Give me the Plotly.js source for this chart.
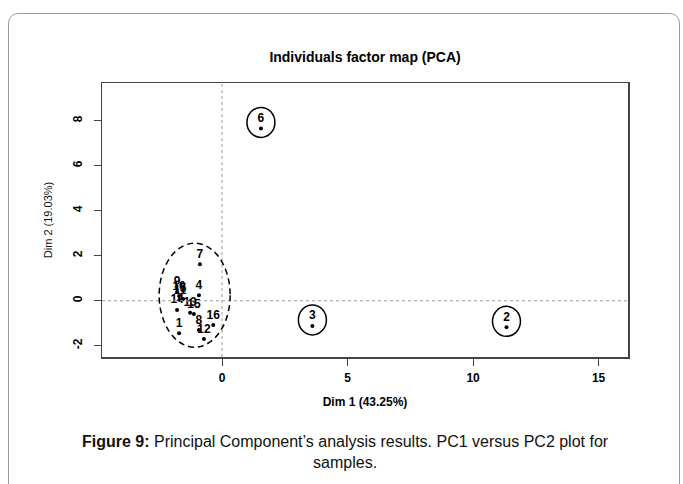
<!DOCTYPE html>
<html>
<head>
<meta charset="utf-8">
<script src="https://cdn.plot.ly/plotly-3.0.1.min.js"></script>
<style>
  html, body { margin: 0; padding: 0; background: #fff; }
  #wrap { position: relative; width: 683px; height: 484px; overflow: hidden; }
  #frame { position: absolute; left: 8px; top: 13px; width: 672px; height: 520px;
           border: 1px solid #9a9a9a; border-radius: 10px; box-sizing: border-box; pointer-events: none; }
  #chart { position: absolute; left: 0; top: 0; width: 683px; height: 484px; }
</style>
</head>
<body>
<div id="wrap">
  <div id="frame"></div>
  <div id="chart"></div>
</div>
<script>
// Sample labels and PCA coordinates
var labels = ['1','2','3','4','5','6','7','8','9','10','11','12','13','14','15','16'];
var dim1 = [-1.71, 11.33, 3.60, -0.92, -1.55, 1.55, -0.88, -0.92, -1.79, -1.71, -1.67, -0.72, -1.27, -1.79, -1.12, -0.35];
var dim2 = [-1.44, -1.18, -1.12, 0.25, 0.08, 7.66, 1.62, -1.30, 0.39, 0.21, 0.03, -1.70, -0.53, -0.41, -0.59, -1.08];
// samples highlighted individually with solid circles
var circled = ['6','3','2'];
var xTicks = [0, 5, 10, 15];
var yTicks = [-2, 0, 2, 4, 6, 8];

var trace = {
  type: 'scatter',
  mode: 'markers+text',
  x: dim1, y: dim2, text: labels,
  textposition: 'top center',
  textfont: { family: 'Liberation Sans, Arial, sans-serif', size: 12, color: '#000', weight: 'bold' },
  marker: { color: '#000', size: 4 },
  hoverinfo: 'text', cliponaxis: false
};

var shapes = [];
// reference lines at 0
shapes.push({ type: 'line', xref: 'x', yref: 'paper', x0: 0, x1: 0, y0: 0, y1: 1,
  line: { color: '#9a9a9a', width: 1, dash: '3px,3px' } });
shapes.push({ type: 'line', xref: 'paper', yref: 'y', x0: 0, x1: 1, y0: 0, y1: 0,
  line: { color: '#9a9a9a', width: 1, dash: '3px,3px' } });

// solid circles around isolated samples
labels.forEach(function (l, i) {
  if (circled.indexOf(l) >= 0) {
    shapes.push({ type: 'circle', xref: 'x', yref: 'y', xsizemode: 'pixel', ysizemode: 'pixel',
      xanchor: dim1[i], yanchor: dim2[i], x0: -14, x1: 14, y0: -9, y1: 21,
      line: { color: '#000', width: 1.5 } });
  }
});
// dashed ellipse around the cluster
var cx = [], cy = [];
labels.forEach(function (l, i) { if (circled.indexOf(l) < 0) { cx.push(dim1[i]); cy.push(dim2[i]); } });
var mx = (Math.min.apply(null, cx) + Math.max.apply(null, cx)) / 2;
var my = (Math.min.apply(null, cy) + Math.max.apply(null, cy)) / 2;
shapes.push({ type: 'circle', xref: 'x', yref: 'y', xsizemode: 'pixel', ysizemode: 'pixel',
  xanchor: mx, yanchor: my, x0: -36, x1: 35, y0: -45.5, y1: 58.5,
  line: { color: '#000', width: 1.5, dash: '6px,4px' } });

var layout = {
  width: 683, height: 484,
  margin: { l: 102, r: 55, t: 83, b: 127 },
  paper_bgcolor: 'rgba(0,0,0,0)', plot_bgcolor: '#fff',
  showlegend: false,
  font: { family: 'Liberation Sans, Arial, sans-serif', color: '#111' },
  title: { text: 'Individuals factor map (PCA)', font: { size: 14, weight: 'bold', color: '#000' },
    x: 0.5345, xref: 'container', xanchor: 'center', y: 1 - 57 / 484, yref: 'container', yanchor: 'middle' },
  xaxis: {
    range: [-4.78, 16.17], tickvals: xTicks, ticktext: xTicks.map(String),
    showgrid: false, zeroline: false, showline: true, mirror: true, linecolor: '#444', linewidth: 1.5,
    ticks: 'outside', ticklen: 7, tickcolor: '#444', ticklabelstandoff: 2,
    tickfont: { size: 12, weight: 'bold', color: '#000' },
    title: { text: 'Dim 1 (43.25%)', font: { size: 12, weight: 'bold', color: '#000' }, standoff: 13 }
  },
  yaxis: {
    range: [-2.5, 9.68], tickvals: yTicks, ticktext: yTicks.map(String), tickangle: -90,
    showgrid: false, zeroline: false, showline: true, mirror: true, linecolor: '#444', linewidth: 1.5,
    ticks: 'outside', ticklen: 7, tickcolor: '#444', ticklabelstandoff: 7,
    tickfont: { size: 12, weight: 'bold', color: '#000' },
    title: { text: 'Dim 2 (19.03%)', font: { size: 11, color: '#111' }, standoff: 16 }
  },
  shapes: shapes,
  annotations: [{
    xref: 'paper', yref: 'paper', x: (345 - 102) / 526, y: (357 - 452) / 274,
    xanchor: 'center', yanchor: 'middle', showarrow: false,
    text: '<b>Figure 9:</b> Principal Component\u2019s analysis results. PC1 versus PC2 plot for<br>samples.',
    font: { size: 16, color: '#111', family: 'Liberation Sans, Arial, sans-serif' }
  }]
};

Plotly.newPlot('chart', [trace], layout, { displayModeBar: false, staticPlot: true });
</script>
</body>
</html>
